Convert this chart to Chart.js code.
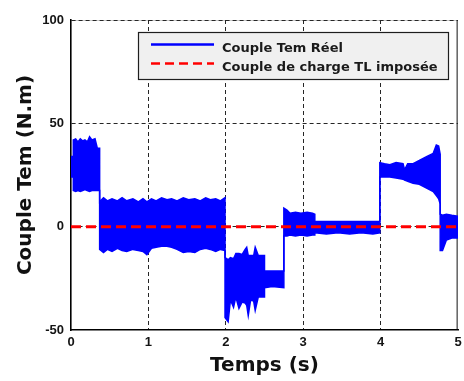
<!DOCTYPE html>
<html>
<head>
<meta charset="utf-8">
<script src="https://cdn.jsdelivr.net/npm/chart.js@4/dist/chart.umd.min.js"></script>
<style>
  html, body { margin: 0; padding: 0; background: #fff; }
  canvas { display: block; }
</style>
</head>
<body>
<canvas id="c" width="464" height="381"></canvas>
<script>
// Electromagnetic torque: upper and lower envelope of the oscillating signal (N.m) versus time (s)
const temps = [
  0.00, 0.03, 0.03, 0.06, 0.09, 0.12, 0.15, 0.18, 0.21, 0.24, 0.27, 0.31, 0.34, 0.37,
  0.37, 0.42, 0.47, 0.53, 0.60, 0.66, 0.72, 0.80, 0.87, 0.93, 0.98, 1.04, 1.10, 1.17,
  1.24, 1.30, 1.37, 1.45, 1.52, 1.60, 1.67, 1.74, 1.80, 1.87, 1.93, 1.99,
  1.99, 2.03, 2.06, 2.10, 2.13, 2.17, 2.21, 2.25, 2.27, 2.29, 2.32, 2.36, 2.38, 2.42, 2.50,
  2.50, 2.60, 2.75,
  2.75, 2.79, 2.83, 2.90, 2.97, 3.05, 3.12, 3.15,
  3.15, 3.30, 3.45, 3.60, 3.75, 3.90, 3.99,
  3.99, 4.05, 4.12, 4.20, 4.29, 4.31, 4.35, 4.42, 4.50, 4.60, 4.68, 4.72, 4.75, 4.77,
  4.77, 4.80, 4.85, 4.92, 5.00
];
const coupleMax = [
  34, 34, 42, 42.5, 41, 42.5, 41.5, 42, 41, 43.5, 42, 42.5, 38, 38,
  12, 14, 12.5, 13.5, 12.5, 14, 12.5, 13.5, 12, 13.5, 12, 13.5, 12.5, 14,
  13, 13.5, 12.5, 14, 13, 13.5, 12.5, 14, 13, 13.5, 12.5, 14,
  -15, -16, -15, -15.5, -13, -13, -13.5, -11, -10, -14, -14, -14, -10, -14, -14,
  -21.5, -21.5, -21.5,
  9, 8, 6.5, 7, 6.5, 7, 6.5, 6,
  2.5, 2.5, 2.5, 2.5, 2.5, 2.5, 2.5,
  31, 30.5, 30, 31, 30.5, 27.5, 30.5, 30.5, 32, 34, 35.5, 39.5, 39, 35,
  6, 5.5, 6, 5.5, 5
];
const coupleMin = [
  24, 24, 17.5, 17, 17.5, 17, 17.5, 18, 17.5, 17, 17.5, 17.5, 17.5, 17.5,
  -11, -12.5, -11, -12, -10.5, -11.5, -12, -11, -11.5, -12, -13.5, -10.5, -10, -9.5,
  -9.5, -10, -11, -12.5, -12, -12.5, -11, -10.5, -11, -12, -11, -11.5,
  -44, -46, -35.5, -39, -34, -39.5, -36.5, -37, -38, -43, -35.5, -36, -40.5, -34, -34,
  -29.5, -29, -29.5,
  -4.5, -4.5, -4, -4.5, -4, -4.5, -4, -4,
  -3, -3.5, -3, -3.5, -3, -3.5, -3,
  24, 24, 24, 23.5, 23, 22.5, 22, 21, 20.5, 18.5, 17, 15, 13.5, 11,
  -11.5, -11.5, -6.5, -5.5, -5.5
];

// Imposed load torque TL (N.m)
const tempsTL = [0, 5];
const coupleTL = [0, 0];

// Axis ticks
const xTicks = [0, 1, 2, 3, 4, 5];
const yTicks = [-50, 0, 50, 100];

const toPoints = (xs, ys) => xs.map((x, i) => ({ x: x, y: ys[i] }));

// Frame lines on the top and right of the plot area, drawn under the grid
const framePlugin = {
  id: 'frame',
  beforeDraw(chart) {
    const { ctx, chartArea: a } = chart;
    ctx.save();
    ctx.strokeStyle = '#c8c8c8';
    ctx.lineWidth = 1;
    ctx.beginPath();
    ctx.moveTo(a.left, a.top + 0.5);
    ctx.lineTo(a.right, a.top + 0.5);
    ctx.stroke();
    ctx.strokeStyle = '#6a6a6a';
    ctx.lineWidth = 1.6;
    ctx.beginPath();
    ctx.moveTo(a.right - 0.8, a.top);
    ctx.lineTo(a.right - 0.8, a.bottom);
    ctx.stroke();
    ctx.restore();
  }
};

// Boxed legend inside the plot area
const legendPlugin = {
  id: 'boxLegend',
  afterDatasetsDraw(chart) {
    const { ctx, chartArea: a } = chart;
    const x0 = a.left + 67, y0 = a.top + 12, x1 = a.right - 9, y1 = a.top + 60;
    ctx.save();
    ctx.fillStyle = '#f0f0f0';
    ctx.fillRect(x0, y0, x1 - x0, y1 - y0);
    ctx.strokeStyle = '#1e1e1e';
    ctx.lineWidth = 1.2;
    ctx.strokeRect(x0 + 0.5, y0 + 0.5, x1 - x0 - 1, y1 - y0 - 1);
    const items = chart.data.datasets.filter(d => d.inLegend);
    items.forEach((d, i) => {
      const ly = y0 + 12.5 + i * 19;
      ctx.beginPath();
      ctx.setLineDash(d.legendDash || []);
      ctx.strokeStyle = d.borderColor;
      ctx.lineWidth = 2.6;
      ctx.moveTo(x0 + 13, ly);
      ctx.lineTo(x0 + 76, ly);
      ctx.stroke();
      ctx.setLineDash([]);
      ctx.fillStyle = '#1a1a1a';
      ctx.font = 'bold 13px "DejaVu Sans"';
      ctx.textBaseline = 'alphabetic';
      ctx.textAlign = 'left';
      ctx.fillText(d.label, x0 + 84, ly + 7.5);
    });
    ctx.restore();
  }
};

const gridDash = [4, 3];

new Chart(document.getElementById('c'), {
  type: 'line',
  data: {
    datasets: [
      {
        label: 'Couple Tem Réel',
        data: toPoints(temps, coupleMax),
        borderColor: '#0000ff',
        backgroundColor: '#0000ff',
        borderWidth: 1.5,
        pointRadius: 0,
        tension: 0,
        fill: '+1',
        inLegend: true,
        order: 0
      },
      {
        label: 'Couple Tem Réel min',
        data: toPoints(temps, coupleMin),
        borderColor: '#0000ff',
        backgroundColor: '#0000ff',
        borderWidth: 1.5,
        pointRadius: 0,
        tension: 0,
        fill: false,
        order: 0
      },
      {
        label: 'Couple de charge TL imposée',
        data: toPoints(tempsTL, coupleTL),
        borderColor: '#ff0000',
        borderWidth: 3,
        borderDash: [10, 5],
        legendDash: [9, 5],
        pointRadius: 0,
        fill: false,
        inLegend: true,
        order: -1
      }
    ]
  },
  options: {
    responsive: false,
    devicePixelRatio: 1,
    animation: false,
    events: [],
    layout: { padding: { top: 20, right: 6, left: 0, bottom: 0 } },
    plugins: {
      legend: { display: false },
      tooltip: { enabled: false }
    },
    scales: {
      x: {
        type: 'linear',
        min: 0,
        max: 5,
        afterBuildTicks: s => { s.ticks = xTicks.map(v => ({ value: v })); },
        afterFit: s => { s.height = 51; s.paddingLeft = 0; s.paddingRight = 0; },
        ticks: {
          color: '#141414',
          padding: 5,
          font: { family: '"Liberation Sans", Arial', size: 13, weight: 'bold' }
        },
        grid: {
          drawTicks: false,
          lineWidth: 1,
          color: ctx => (ctx.tick && (ctx.tick.value === 0 || ctx.tick.value === 5)) ? 'rgba(0,0,0,0)' : '#262626'
        },
        border: { display: true, color: '#000', width: 1.6, dash: gridDash },
        title: {
          display: true,
          text: 'Temps (s)',
          color: '#111',
          font: { family: '"DejaVu Sans"', size: 20, weight: 'bold' },
          padding: { top: 0, bottom: 3 }
        }
      },
      y: {
        type: 'linear',
        min: -50,
        max: 100,
        afterBuildTicks: s => { s.ticks = yTicks.map(v => ({ value: v })); },
        afterFit: s => { s.width = 71; s.paddingTop = 0; s.paddingBottom = 0; },
        ticks: {
          color: '#141414',
          padding: 7,
          font: { family: '"Liberation Sans", Arial', size: 13, weight: 'bold' }
        },
        grid: {
          drawTicks: false,
          lineWidth: 1,
          color: ctx => (ctx.tick && ctx.tick.value === -50) ? 'rgba(0,0,0,0)' : '#262626'
        },
        border: { display: true, color: '#000', width: 1.6, dash: gridDash },
        title: {
          display: true,
          text: 'Couple Tem (N.m)',
          color: '#111',
          font: { family: '"DejaVu Sans"', size: 20, weight: 'bold' },
          padding: { top: 14, bottom: 0 }
        }
      }
    }
  },
  plugins: [framePlugin, legendPlugin]
});
</script>
</body>
</html>
